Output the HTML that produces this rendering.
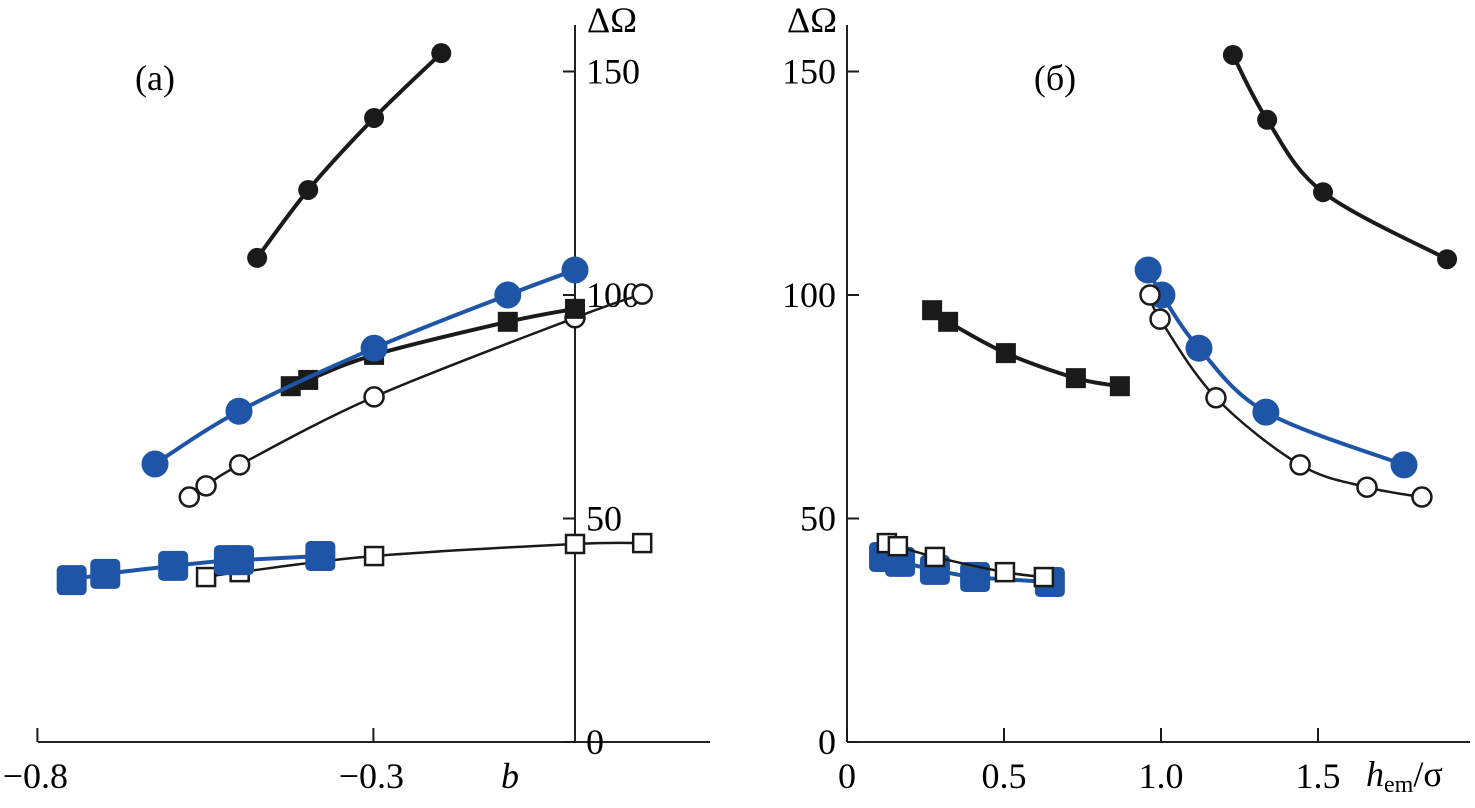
<!DOCTYPE html>
<html><head><meta charset="utf-8">
<style>
html,body{margin:0;padding:0;background:#fff;}
svg{display:block;font-family:"Liberation Serif",serif;}
</style></head>
<body>
<svg id="chart" width="1475" height="808" viewBox="0 0 1475 808">
<g id="axes">
  <line x1="38" y1="742" x2="710" y2="742" stroke="#222" stroke-width="2"/>
  <line x1="575" y1="742" x2="575" y2="25" stroke="#222" stroke-width="2"/>
  <line x1="847" y1="742" x2="1470" y2="742" stroke="#222" stroke-width="2"/>
  <line x1="847" y1="742" x2="847" y2="25" stroke="#222" stroke-width="2"/>
  <text x="612" y="32" font-size="36" text-anchor="middle">ΔΩ</text>
  <text x="812" y="32" font-size="36" text-anchor="middle">ΔΩ</text>
  <text x="510" y="788" font-size="36" font-style="italic" text-anchor="middle">b</text>
  <text x="1366" y="786" font-size="36"><tspan font-style="italic">h</tspan><tspan font-size="24" dy="6">em</tspan><tspan dy="-6">/σ</tspan></text>
  <text x="155" y="90" font-size="36" text-anchor="middle">(a)</text>
  <text x="1055" y="90" font-size="36" text-anchor="middle">(б)</text>
</g>
<g id="marks"></g>
</svg>
<script>
const NS="http://www.w3.org/2000/svg";
const leftXTicks=[-0.8,-0.3];
const leftXTickLabels=["−0.8","−0.3"];
const rightXTicks=[0,0.5,1.0,1.5];
const rightXTickLabels=["0","0.5","1.0","1.5"];
const yTicks=[0,50,100,150];
const yTickLabels=["0","50","100","150"];

const aBlackFilledX=[-0.473,-0.397,-0.299,-0.199];
const aBlackFilledY=[108.3,123.5,139.6,154.1];
const aBlueCircleX=[-0.625,-0.5,-0.299,-0.1,0];
const aBlueCircleY=[62.2,74,88.1,100,105.6];
const aBlackSquareX=[-0.423,-0.397,-0.299,-0.1,0];
const aBlackSquareY=[79.6,81,86.6,94,96.9];
const aOpenCircleX=[-0.574,-0.549,-0.499,-0.299,0,0.1];
const aOpenCircleY=[54.8,57.3,62,77.2,94.9,100.2];
const aOpenSquareX=[-0.549,-0.499,-0.299,0,0.1];
const aOpenSquareY=[36.9,38,41.6,44.3,44.5];
const aBlueSquareX=[-0.749,-0.699,-0.598,-0.515,-0.5,-0.379];
const aBlueSquareY=[36.2,37.6,39.4,40.7,40.7,41.6];

const bBlackFilledX=[1.229,1.338,1.516,1.911];
const bBlackFilledY=[153.7,139.2,123,108];
const bBlueCircleX=[0.959,1.003,1.121,1.334,1.774];
const bBlueCircleY=[105.6,100,88.1,73.8,62];
const bOpenCircleX=[0.965,0.997,1.175,1.443,1.656,1.831];
const bOpenCircleY=[100,94.6,77,62,57,54.8];
const bBlackSquareX=[0.271,0.322,0.506,0.729,0.869];
const bBlackSquareY=[96.6,94,87,81.4,79.6];
const bOpenSquareX=[0.127,0.162,0.28,0.503,0.627];
const bOpenSquareY=[44.5,43.8,41.4,38,36.9];
const bBlueSquareX=[0.118,0.169,0.28,0.408,0.646];
const bBlueSquareY=[41.4,40.3,38.5,36.9,35.8];

const xA=v=>575+v*672;
const xB=v=>847+v*314;
const yS=v=>742-v*4.47;
const g=document.getElementById('marks');
const BLUE="#1f55a6", BLK="#1a1a1a";

function mk(tag,attrs){const e=document.createElementNS(NS,tag);for(const k in attrs)e.setAttribute(k,attrs[k]);g.appendChild(e);return e;}
function smooth(pts){
  let d="M"+pts[0][0]+","+pts[0][1];
  for(let i=0;i<pts.length-1;i++){
    const p0=pts[Math.max(0,i-1)],p1=pts[i],p2=pts[i+1],p3=pts[Math.min(pts.length-1,i+2)];
    const c1=[p1[0]+(p2[0]-p0[0])/6,p1[1]+(p2[1]-p0[1])/6];
    const c2=[p2[0]-(p3[0]-p1[0])/6,p2[1]-(p3[1]-p1[1])/6];
    d+=` C${c1[0]},${c1[1]} ${c2[0]},${c2[1]} ${p2[0]},${p2[1]}`;
  }
  return d;
}
function series(name,xs,ys,xf,color,lw,marker){
  const pts=xs.map((x,i)=>[xf(x),yS(ys[i])]);
  const p=mk('path',{d:smooth(pts),fill:'none',stroke:color,'stroke-width':lw});
  
  
  pts.forEach(([x,y])=>{
    let e;
    if(marker==='fc') e=mk('circle',{cx:x,cy:y,r:10,fill:BLK});
    else if(marker==='bc') e=mk('circle',{cx:x,cy:y,r:13.5,fill:BLUE});
    else if(marker==='oc') e=mk('circle',{cx:x,cy:y,r:9.5,fill:'#fff',stroke:BLK,'stroke-width':2.5});
    else if(marker==='fs') e=mk('rect',{x:x-10,y:y-10,width:20,height:20,fill:BLK});
    else if(marker==='os') e=mk('rect',{x:x-9,y:y-9,width:18,height:18,fill:'#fff',stroke:BLK,'stroke-width':2.5});
    else if(marker==='bs') e=mk('rect',{x:x-15,y:y-15,width:30,height:30,rx:5,fill:BLUE});
    
    
  });
}
leftXTicks.forEach((t,i)=>{
  const l=mk('line',{x1:xA(t),y1:742,x2:xA(t),y2:728,stroke:BLK,'stroke-width':2});
  
  
  const tx=mk('text',{x:xA(t)-2,y:788,'font-size':36,'text-anchor':'middle'});tx.textContent=leftXTickLabels[i];
  
  
});
rightXTicks.forEach((t,i)=>{
  const l=mk('line',{x1:xB(t),y1:742,x2:xB(t),y2:728,stroke:BLK,'stroke-width':2});
  
  
  const tx=mk('text',{x:xB(t),y:788,'font-size':36,'text-anchor':'middle'});tx.textContent=rightXTickLabels[i];
  
  
});
yTicks.forEach((t,i)=>{
  const l=mk('line',{x1:575,y1:yS(t),x2:563,y2:yS(t),stroke:BLK,'stroke-width':2});
  
  
  const tx=mk('text',{x:586,y:yS(t)+12,'font-size':36});tx.textContent=yTickLabels[i];
  
  
  const l2=mk('line',{x1:847,y1:yS(t),x2:859,y2:yS(t),stroke:BLK,'stroke-width':2});
  
  
  const t2=mk('text',{x:836,y:yS(t)+12,'font-size':36,'text-anchor':'end'});t2.textContent=yTickLabels[i];
  
  
});
series('a-black-circles',aBlackFilledX,aBlackFilledY,xA,BLK,4,'fc');
series('a-open-circles',aOpenCircleX,aOpenCircleY,xA,BLK,2.5,'oc');
series('a-black-squares',aBlackSquareX,aBlackSquareY,xA,BLK,4,'fs');
series('a-blue-circles',aBlueCircleX,aBlueCircleY,xA,BLUE,4,'bc');
series('a-open-squares',aOpenSquareX,aOpenSquareY,xA,BLK,2.5,'os');
series('a-blue-squares',aBlueSquareX,aBlueSquareY,xA,BLUE,4,'bs');
series('b-black-circles',bBlackFilledX,bBlackFilledY,xB,BLK,4,'fc');
series('b-blue-circles',bBlueCircleX,bBlueCircleY,xB,BLUE,4,'bc');
series('b-open-circles',bOpenCircleX,bOpenCircleY,xB,BLK,2.5,'oc');
series('b-black-squares',bBlackSquareX,bBlackSquareY,xB,BLK,4,'fs');
series('b-blue-squares',bBlueSquareX,bBlueSquareY,xB,BLUE,4,'bs');
series('b-open-squares',bOpenSquareX,bOpenSquareY,xB,BLK,2.5,'os');
</script>
</body></html>
